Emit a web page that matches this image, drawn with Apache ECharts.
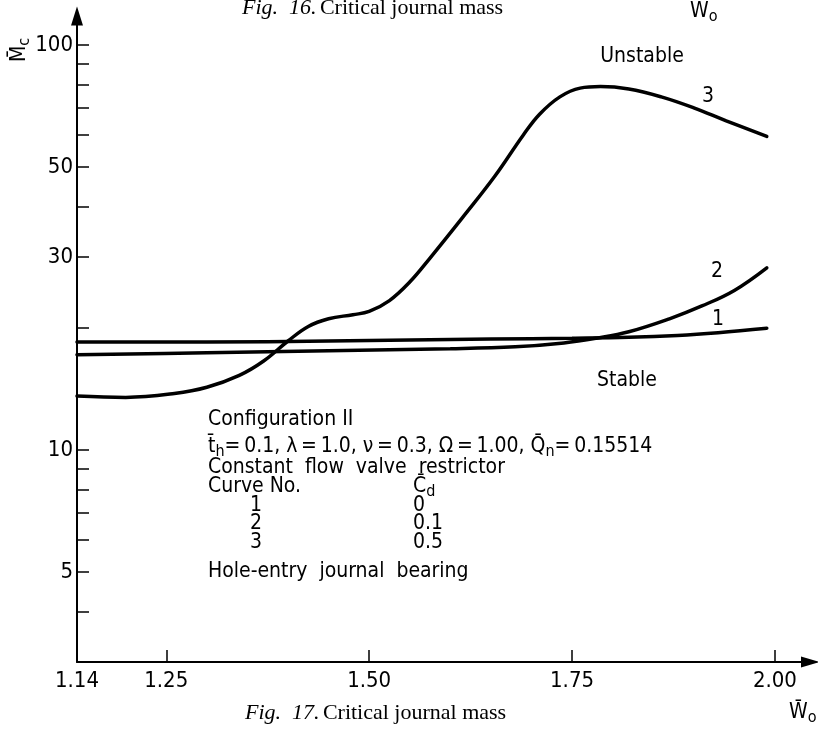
<!DOCTYPE html>
<html>
<head>
<meta charset="utf-8">
<script src="https://cdn.jsdelivr.net/npm/echarts@6/dist/echarts.min.js"></script>
<style>
  html, body { margin: 0; padding: 0; background: #fff; }
  #chart { width: 818px; height: 732px; }
</style>
</head>
<body>
<div id="chart"></div>
<script>
// Dimensionless journal load W̄o (x) and critical journal mass M̄c (y, log scale)

// Curve 1: C̄d = 0
const wo1 = [1.14, 1.30, 1.45, 1.55, 1.65, 1.75, 1.82, 1.88, 1.93, 1.99];
const mc1 = [18.5, 18.5, 18.6, 18.7, 18.8, 18.9, 19.0, 19.2, 19.5, 20.0];

// Curve 2: C̄d = 0.1
const wo2 = [1.14, 1.30, 1.45, 1.60, 1.68, 1.74, 1.78, 1.82, 1.87, 1.91, 1.95, 1.99];
const mc2 = [17.2, 17.4, 17.6, 17.8, 18.0, 18.4, 18.9, 19.6, 21.1, 22.7, 24.8, 28.2];

// Curve 3: C̄d = 0.5
const wo3 = [1.14, 1.20, 1.26, 1.30, 1.34, 1.37, 1.40, 1.425, 1.45, 1.48, 1.50,
             1.525, 1.55, 1.575, 1.615, 1.655, 1.69, 1.71, 1.735, 1.76, 1.785,
             1.82, 1.86, 1.90, 1.94, 1.99];
const mc3 = [13.6, 13.5, 13.8, 14.3, 15.3, 16.6, 18.6, 20.2, 21.1, 21.6, 22.0,
             23.4, 26.0, 29.8, 37.5, 47.5, 60.0, 67.5, 74.5, 78.3, 79.0,
             77.9, 74.5, 70.0, 65.0, 59.5];

// Axis ticks
const xTickValues = [1.25, 1.50, 1.75, 2.00];
const xLabelValues = [1.14, 1.25, 1.50, 1.75, 2.00];
const yTickValues = [4, 5, 6, 7, 8, 9, 10, 20, 30, 40, 50, 60, 70, 80, 90, 100];
const yLabelValues = [5, 10, 30, 50, 100];

const zip = (xs, ys) => xs.map((x, i) => [x, ys[i]]);

const LETTER = "'DejaVu Sans Condensed', 'Liberation Sans Narrow', 'DejaVu Sans', sans-serif";
const SERIF = "'Liberation Serif', 'DejaVu Serif', serif";
const FS = 21;

const chart = echarts.init(document.getElementById('chart'), null, { renderer: 'canvas' });

function lineSeries(name, data) {
  return {
    name, type: 'line', data,
    smooth: 0.4, showSymbol: false, symbol: 'none',
    lineStyle: { color: '#000', width: 3.5, cap: 'round' },
    silent: true
  };
}

function txt(x, y, text, opts) {
  return {
    type: 'text', x, y, silent: true,
    style: Object.assign({
      text, fill: '#000', font: FS + 'px ' + LETTER,
      textAlign: 'left', textVerticalAlign: 'middle'
    }, opts || {})
  };
}

const main = { font: FS + 'px ' + LETTER };
const sub = { font: '16px ' + LETTER, verticalAlign: 'bottom', padding: [9, 0, 0, 0] };
const thin = '\u2009';

chart.setOption({
  animation: false,
  backgroundColor: '#fff',
  grid: { left: 77, right: 2.5, top: 13, bottom: 70, outerBoundsMode: 'none' },
  xAxis: {
    type: 'value', min: 1.14, max: 2.05,
    axisLine: {
      lineStyle: { color: '#000', width: 2 },
      symbol: ['none', 'triangle'], symbolSize: [11, 19], symbolOffset: [0, -5]
    },
    axisTick: { inside: true, length: 12, customValues: xTickValues, lineStyle: { color: '#000', width: 1.5 } },
    axisLabel: {
      customValues: xLabelValues, formatter: v => Number(v).toFixed(2),
      margin: 8, color: '#000', fontSize: 22, fontFamily: LETTER
    },
    splitLine: { show: false }
  },
  yAxis: {
    type: 'log', logBase: 10, min: 3, max: 120,
    axisLine: {
      lineStyle: { color: '#000', width: 2 },
      symbol: ['none', 'triangle'], symbolSize: [12, 19], symbolOffset: [0, -3]
    },
    axisTick: { inside: true, length: 12, customValues: yTickValues, lineStyle: { color: '#000', width: 1.5 } },
    axisLabel: {
      customValues: yLabelValues, margin: 4,
      color: '#000', fontSize: 22, fontFamily: LETTER
    },
    splitLine: { show: false },
    minorTick: { show: false }
  },
  series: [
    lineSeries('1', zip(wo1, mc1)),
    lineSeries('2', zip(wo2, mc2)),
    lineSeries('3', zip(wo3, mc3))
  ],
  graphic: [
    // captions
    {
      type: 'text', x: 242, y: 8, silent: true,
      style: {
        text: '{i|Fig.  16.} {r|Critical journal mass}',
        rich: { i: { font: 'italic 22px ' + SERIF }, r: { font: '22px ' + SERIF } },
        fill: '#000', textVerticalAlign: 'middle'
      }
    },
    {
      type: 'text', x: 245, y: 713, silent: true,
      style: {
        text: '{i|Fig.  17.} {r|Critical journal mass}',
        rich: { i: { font: 'italic 22px ' + SERIF }, r: { font: '22px ' + SERIF } },
        fill: '#000', textVerticalAlign: 'middle'
      }
    },
    {
      type: 'text', x: 690, y: 12, silent: true,
      style: { text: '{a|W}{s|o}', rich: { a: main, s: sub }, fill: '#000', textVerticalAlign: 'middle' }
    },
    {
      type: 'text', x: 789, y: 713, silent: true,
      style: { text: '{a|W\u0304}{s|o}', rich: { a: main, s: sub }, fill: '#000', textVerticalAlign: 'middle' }
    },
    // y-axis name
    {
      type: 'text', x: 20, y: 50, rotation: Math.PI / 2, silent: true,
      style: {
        text: '{a|M\u0304}{s|c}', rich: { a: main, s: sub },
        fill: '#000', textAlign: 'center', textVerticalAlign: 'middle'
      }
    },
    // region and curve labels
    txt(642, 57, 'Unstable', { textAlign: 'center' }),
    txt(627, 381, 'Stable', { textAlign: 'center' }),
    txt(708, 97, '3', { textAlign: 'center' }),
    txt(717, 272, '2', { textAlign: 'center' }),
    txt(718, 320, '1', { textAlign: 'center' }),
    // parameter block
    txt(208, 420, 'Configuration II'),
    {
      type: 'text', x: 208, y: 447, silent: true,
      style: {
        text: '{a|t\u0304}{s|h}{a|=' + thin + '0.1, λ' + thin + '=' + thin + '1.0, ν' + thin + '=' + thin + '0.3, Ω' + thin + '=' + thin + '1.00, Q\u0304}{s|n}{a|=' + thin + '0.15514}',
        rich: { a: main, s: sub },
        fill: '#000', textVerticalAlign: 'middle'
      }
    },
    txt(208, 468, 'Constant  flow  valve  restrictor'),
    txt(208, 487, 'Curve No.'),
    {
      type: 'text', x: 413, y: 487, silent: true,
      style: { text: '{a|C\u0304}{s|d}', rich: { a: main, s: sub }, fill: '#000', textVerticalAlign: 'middle' }
    },
    txt(250, 506, '1'), txt(413, 506, '0'),
    txt(250, 524, '2'), txt(413, 524, '0.1'),
    txt(250, 543, '3'), txt(413, 543, '0.5'),
    txt(208, 572, 'Hole-entry  journal  bearing')
  ]
});
</script>
</body>
</html>
